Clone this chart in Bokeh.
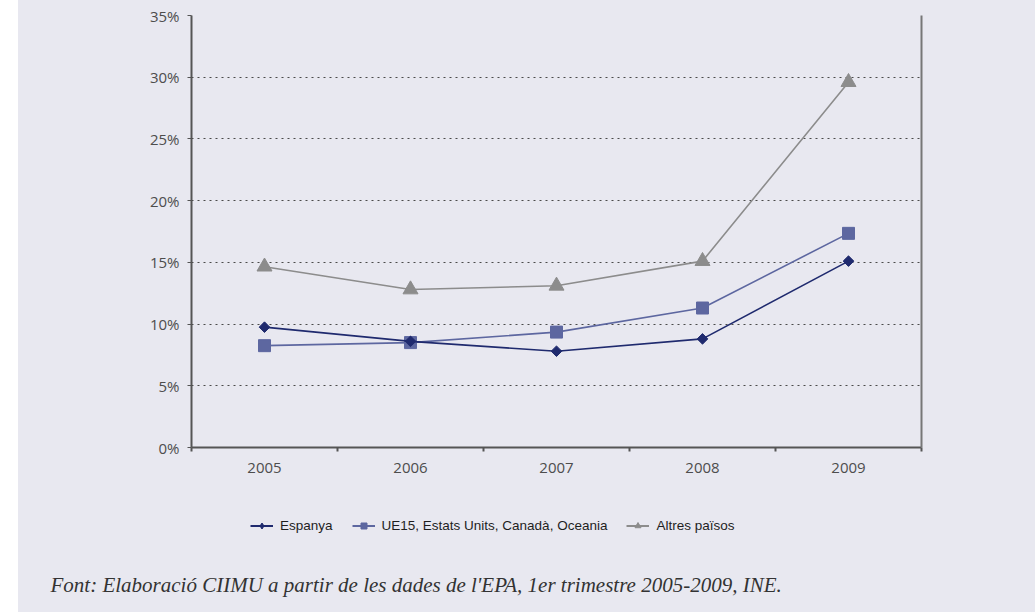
import math
from bokeh.plotting import figure
from bokeh.models import (FixedTicker, PrintfTickFormatter, LinearAxis, Legend,
                          LegendItem, Label, Range1d, Spacer, ColumnDataSource)
from bokeh.layouts import row, column
from bokeh.embed import file_html
from bokeh.resources import INLINE

# ---- data ----
years = ["2005", "2006", "2007", "2008", "2009"]
espanya = [9.75, 8.6, 7.8, 8.8, 15.1]
ue15 = [8.25, 8.5, 9.35, 11.3, 17.35]
altres = [14.65, 12.8, 13.1, 15.1, 29.6]
y_ticks = [0, 5, 10, 15, 20, 25, 30, 35]
series_names = ["Espanya", "UE15, Estats Units, Canadà, Oceania", "Altres països"]
caption = "Font: Elaboració CIIMU a partir de les dades de l'EPA, 1er trimestre 2005-2009, INE."

BG = "#e8e8f0"
AX = "#555555"
c_esp, c_ue, c_alt = "#1f2a6e", "#5d67a0", "#8c8c8c"

centers = [i + 0.5 for i in range(len(years))]
bounds = [i for i in range(len(years) + 1)]

src = ColumnDataSource(dict(x=centers, esp=espanya, ue=ue15, alt=altres))

W = 1017
p = figure(width=W, height=490, output_backend="svg", toolbar_location=None,
           x_range=Range1d(0, len(years)), y_range=Range1d(y_ticks[0], y_ticks[-1]),
           min_border_left=173, min_border_right=114, min_border_top=15,
           min_border_bottom=43, background_fill_color=BG, border_fill_color=BG,
           outline_line_color=None)

# axes
p.yaxis.ticker = FixedTicker(ticks=y_ticks)
p.yaxis.formatter = PrintfTickFormatter(format="%d%%")
p.yaxis.axis_line_width = 2
p.yaxis.axis_line_color = AX
p.yaxis.major_tick_line_color = AX
p.yaxis.major_tick_out = 4
p.yaxis.major_tick_in = 0
p.yaxis.minor_tick_line_color = None
p.yaxis.major_label_text_font = "Open Sans"
p.yaxis.major_label_text_font_size = "15px"
p.yaxis.major_label_text_color = "#4d4d4d"
p.yaxis.major_label_standoff = 8

p.xaxis.ticker = FixedTicker(ticks=centers, minor_ticks=bounds)
p.xaxis.major_label_overrides = {c: y for c, y in zip(centers, years)}
p.xaxis.axis_line_width = 2
p.xaxis.axis_line_color = AX
p.xaxis.major_tick_line_color = None
p.xaxis.minor_tick_line_color = AX
p.xaxis.minor_tick_line_width = 2
p.xaxis.minor_tick_out = 4
p.xaxis.minor_tick_in = 0
p.xaxis.major_label_text_font = "Open Sans"
p.xaxis.major_label_text_font_size = "15px"
p.xaxis.major_label_text_color = "#4d4d4d"
p.xaxis.major_label_standoff = 9

right = LinearAxis(ticker=FixedTicker(ticks=[]), axis_line_color="#777777",
                   axis_line_width=2, major_label_text_font_size="0px",
                   major_tick_line_color=None, minor_tick_line_color=None)
p.add_layout(right, "right")

p.xgrid.visible = False
p.ygrid.ticker = FixedTicker(ticks=y_ticks[1:])
p.ygrid.grid_line_color = "#4a4a4a"
p.ygrid.grid_line_dash = "2 4"
p.ygrid.grid_line_width = 1

# series
DIAM = math.pi / 4
p.line("x", "alt", source=src, line_color=c_alt, line_width=1.6)
p.scatter("x", "alt", source=src, marker="triangle", size=15,
          fill_color=c_alt, line_color=c_alt)
p.line("x", "ue", source=src, line_color=c_ue, line_width=1.6)
p.scatter("x", "ue", source=src, marker="square", size=12,
          fill_color=c_ue, line_color=c_ue)
p.line("x", "esp", source=src, line_color=c_esp, line_width=1.6)
p.scatter("x", "esp", source=src, marker="square", angle=DIAM, size=7.5,
          fill_color=c_esp, line_color=c_esp)

# ---- legend + caption strip ----
p2 = figure(width=W, height=122, output_backend="svg", toolbar_location=None,
            x_range=Range1d(0, 1), y_range=Range1d(0, 1),
            x_axis_location=None, y_axis_location=None,
            min_border_left=0, min_border_right=0, min_border_top=0, min_border_bottom=0,
            background_fill_color=BG, border_fill_color=BG, outline_line_color=None)
p2.frame_align = False
p2.grid.visible = False

# legend-only renderers (no visible data)
nan = float("nan")
empty = ColumnDataSource(dict(x=[nan], y=[nan]))
le_l = p2.line("x", "y", source=empty, line_color=c_esp, line_width=2)
le_m = p2.scatter("x", "y", source=empty, marker="diamond", size=9,
                  fill_color=c_esp, line_color=c_esp)
lu_l = p2.line("x", "y", source=empty, line_color=c_ue, line_width=2)
lu_m = p2.scatter("x", "y", source=empty, marker="square", size=6,
                  fill_color=c_ue, line_color=c_ue)
la_l = p2.line("x", "y", source=empty, line_color=c_alt, line_width=2)
la_m = p2.scatter("x", "y", source=empty, marker="triangle", size=7,
                  fill_color=c_alt, line_color=c_alt)

legend = Legend(items=[
    LegendItem(label=series_names[0], renderers=[le_l, le_m]),
    LegendItem(label=series_names[1], renderers=[lu_l, lu_m]),
    LegendItem(label=series_names[2], renderers=[la_l, la_m]),
], orientation="horizontal", location=(232, 79), padding=0, margin=0,
   spacing=19, glyph_width=23, glyph_height=15, label_standoff=7,
   label_text_font="Liberation Sans", label_text_font_size="13.5px",
   label_text_color="#1e1e1e", background_fill_alpha=0, border_line_color=None)
p2.add_layout(legend, "center")

p2.add_layout(Label(x=32, y=28, x_units="screen", y_units="screen", text=caption,
                    text_font="Liberation Serif", text_font_style="italic",
                    text_font_size="21px", text_color="#333333",
                    text_baseline="alphabetic"))

col = column(p, p2, styles={"background-color": BG})
layout = row(Spacer(width=18, height=612), col)
open("out.html", "w").write(file_html(layout, INLINE))
